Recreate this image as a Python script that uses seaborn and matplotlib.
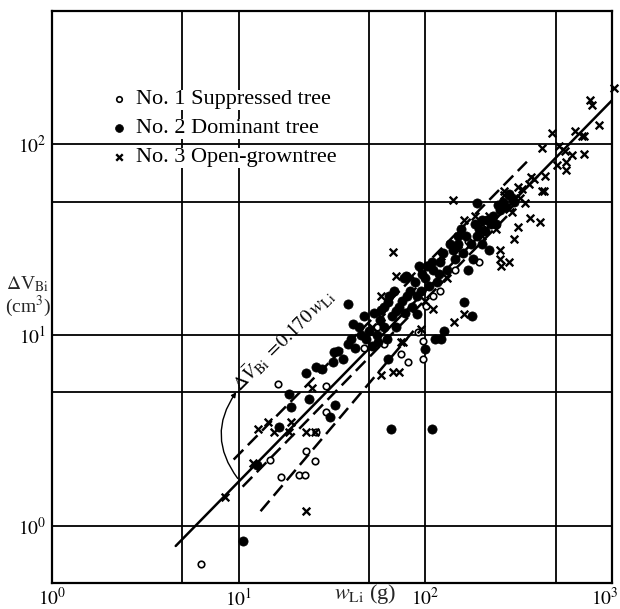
import matplotlib
matplotlib.use("Agg")
import matplotlib.pyplot as plt
import matplotlib.transforms as mtransforms
import seaborn as sns

# ---- No. 1 : suppressed tree (open circles) ----
sup_w = [6.3, 16.2, 29.4, 29.4, 22.9, 25.6, 21.0, 22.6, 16.8, 14.7,
         26.0, 74.3, 81.0, 97.6, 97.6, 91.7, 101, 47, 55, 120, 145, 195, 170,
         60, 110]
sup_v = [0.63, 5.52, 5.39, 3.93, 2.45, 2.17, 1.85, 1.85, 1.79, 2.22,
         3.1, 7.94, 7.2, 7.5, 9.3, 10.4, 14.2, 8.5, 11, 17, 22, 24, 31,
         9, 16]

# ---- No. 2 : dominant tree (filled dots) ----
dom_w = [10.5, 65.6, 108, 12.6, 16.4, 18.6, 19, 22.9, 26, 23.8, 28, 32, 32.4,
         34, 38.5, 33, 31, 63, 38.5, 41, 63, 70, 90, 79, 93, 77, 99, 112, 122,
         126, 162, 178, 150, 156, 188,
         45, 48, 50, 52, 55, 57, 60, 62, 66, 70, 75, 80, 85, 42, 58, 68, 95,
         100, 105, 110, 115, 120, 88, 36, 40,
         130, 145, 160, 170, 175, 180, 190, 200, 200, 210, 220, 230, 240, 250,
         260, 270, 300, 280,
         44, 47, 53, 56, 60, 64, 72, 78, 83, 90, 96, 102, 108, 118, 125, 135,
         140, 150, 165, 185, 195, 215, 225, 245, 290]
dom_v = [0.83, 3.2, 3.2, 2.07, 3.3, 4.9, 4.2, 6.3, 6.8, 4.6, 6.6, 7.2, 8.1,
         8.2, 9.0, 4.3, 3.7, 7.5, 14.6, 11.4, 14.9, 13.4, 12.9, 20.4, 23, 20,
         8.4, 9.5, 9.5, 10.5, 14.9, 12.6, 33, 36, 49,
         10, 9.5, 10.5, 8.8, 10, 12, 11, 9.5, 12.5, 11, 15, 16, 14, 8.5, 13.5,
         17, 17, 20, 18, 22, 19, 24, 19, 7.5, 9.5,
         22, 25, 27, 22, 30, 25, 33, 30, 40, 35, 28, 42, 38, 45,
         50, 47, 50, 55,
         11, 12.5, 13, 9.2, 14, 16, 14, 13, 17, 16, 21, 23, 24, 21, 27, 30,
         28, 30, 33, 38, 36, 40, 38, 48, 52]

# ---- No. 3 : open-grown tree (crosses) ----
opn_w = [8.5, 23, 12.7, 14.3, 15.4, 19, 18.5, 11.9, 23, 25.5, 67, 141, 70, 84,
         162, 184, 363, 410, 707, 850, 1030, 760, 780, 475, 630, 690, 420, 520,
         560, 610, 570, 510, 437, 570, 263, 280, 320, 340, 420, 290, 315, 280,
         300, 255, 250, 58, 67, 72, 74, 143, 162, 52, 24.7, 58, 76, 95, 110, 58,
         122, 250, 707, 370, 430, 265, 200, 315,
         85, 100, 130, 150, 200, 220, 240, 330, 360, 380]
opn_v = [1.42, 1.2, 3.2, 3.5, 3.1, 3.5, 3.1, 2.14, 3.1, 3.1, 27.3, 51, 20.4,
         20.4, 40, 42, 41, 39, 89, 126, 197, 170, 160, 114, 118, 111, 96, 98,
         92, 88, 81, 78, 68, 73, 57, 46, 52, 49, 57, 44, 60, 24, 32, 23, 28,
         6.2, 6.4, 6.4, 9.2, 11.7, 12.9, 11, 5.3, 16, 9.2, 10.7, 13.7, 12.4,
         26, 25, 110, 67, 57, 54, 38, 37,
         17, 15, 20, 28, 33, 42, 36, 58, 62, 66]

# ---- fitted lines ----
coef = 0.170                      # common fit: dV = 0.170 w
fit_w = [4.6, 1000]
dash_hi_w, dash_hi_v = [9.4, 350], [2.22, 81]
dash_mid_w, dash_mid_v = [10.5, 300], [1.6, 46]
dash_lo_w, dash_lo_v = [13.1, 90], [1.19, 11]

sns.set_theme(style="white")
plt.rcParams.update({
    "font.family": ["Liberation Serif", "DejaVu Serif"],
    "mathtext.fontset": "stix",
    "axes.edgecolor": "black",
    "text.color": "black",
    "xtick.color": "black",
    "ytick.color": "black",
})

fig = plt.figure(figsize=(6.2, 6.09), dpi=100)
ax = fig.add_axes([52 / 620, 26 / 609, 560 / 620, 572 / 609])
ax.set_xscale("log")
ax.set_yscale("log")
ax.set_xlim(1, 1000)
ax.set_ylim(0.5, 500)

# grid at 1-5-10 steps
ax.set_xticks([1, 10, 100, 1000])
ax.set_xticks([5, 50, 500], minor=True)
ax.set_yticks([1, 10, 100])
ax.set_yticks([5, 50], minor=True)
ax.set_xticklabels([r"$10^0$", r"$10^1$", r"$10^2$", r"$10^3$"], minor=False)
ax.set_yticklabels([r"$10^0$", r"$10^1$", r"$10^2$"], minor=False)
ax.set_xticklabels([], minor=True)
ax.set_yticklabels([], minor=True)
ax.tick_params(which="both", length=0, labelsize=14)
ax.tick_params(axis="x", pad=3)
ax.tick_params(axis="y", pad=4)
ax.grid(True, which="both", color="black", lw=1.3)
ax.set_axisbelow(True)
for sp in ax.spines.values():
    sp.set_linewidth(1.6)
    sp.set_color("black")

# keep the last x label inside the canvas
last = ax.get_xticklabels()[-1]
last.set_transform(last.get_transform() +
                   mtransforms.ScaledTranslation(-7 / 100, 0, fig.dpi_scale_trans))

# regression lines
fit_v = [coef * w for w in fit_w]
sns.lineplot(x=fit_w, y=fit_v, ax=ax, color="black", lw=1.8, zorder=2)
for xs, ys in [(dash_hi_w, dash_hi_v), (dash_mid_w, dash_mid_v), (dash_lo_w, dash_lo_v)]:
    ax.plot(xs, ys, color="black", lw=1.8, dashes=(5.5, 2.6), zorder=2)

# observations
sns.scatterplot(x=sup_w, y=sup_v, ax=ax, marker="o", s=22, color="black",
                edgecolor="black", linewidth=1.2, zorder=3,
                label="No. 1 Suppressed tree")
ax.collections[-1].set_facecolor("white")
sns.scatterplot(x=dom_w, y=dom_v, ax=ax, marker="o", s=44, color="black",
                edgecolor="black", linewidth=0.5, zorder=3,
                label="No. 2 Dominant tree")
sns.scatterplot(x=opn_w, y=opn_v, ax=ax, marker="x", s=30, color="black",
                linewidth=1.7, zorder=3, clip_on=False,
                label="No. 3 Open-growntree")

leg = ax.legend(loc="upper left", bbox_to_anchor=(0.104, 0.864), frameon=False,
                fontsize=16, handlelength=0.8, handletextpad=0.35,
                labelspacing=0.38, borderaxespad=0, borderpad=0, markerscale=0.85)
for t in leg.get_texts():
    t.set_bbox(dict(facecolor="white", edgecolor="none", pad=0.5))

# equation with curved pointer
ax.text(10.3, 5.0, r"$\Delta\bar{V}_{\rm Bi}\ =\!0.170\,w_{\rm Li}$",
        rotation=45, rotation_mode="anchor", ha="left", va="baseline",
        fontsize=14)
ax.annotate("", xy=(9.9, 5.15), xytext=(10.1, 1.72),
            arrowprops=dict(arrowstyle="-|>", mutation_scale=7, lw=1.0,
                            color="black", connectionstyle="arc3,rad=-0.38"))

# axis labels
ax.set_ylabel("$\\Delta$V$_{\\rm Bi}$\n(cm$^3$)", rotation=0, fontsize=14,
              ha="center", va="center", linespacing=1.0)
ax.yaxis.set_label_coords(-0.043, 0.5)
ax.set_xlabel(r"$w_{\rm Li}$ (g)", fontsize=16, ha="center", va="center")
ax.xaxis.set_label_coords(0.56, -0.02)

fig.savefig("out.png", dpi=100, facecolor="white")
